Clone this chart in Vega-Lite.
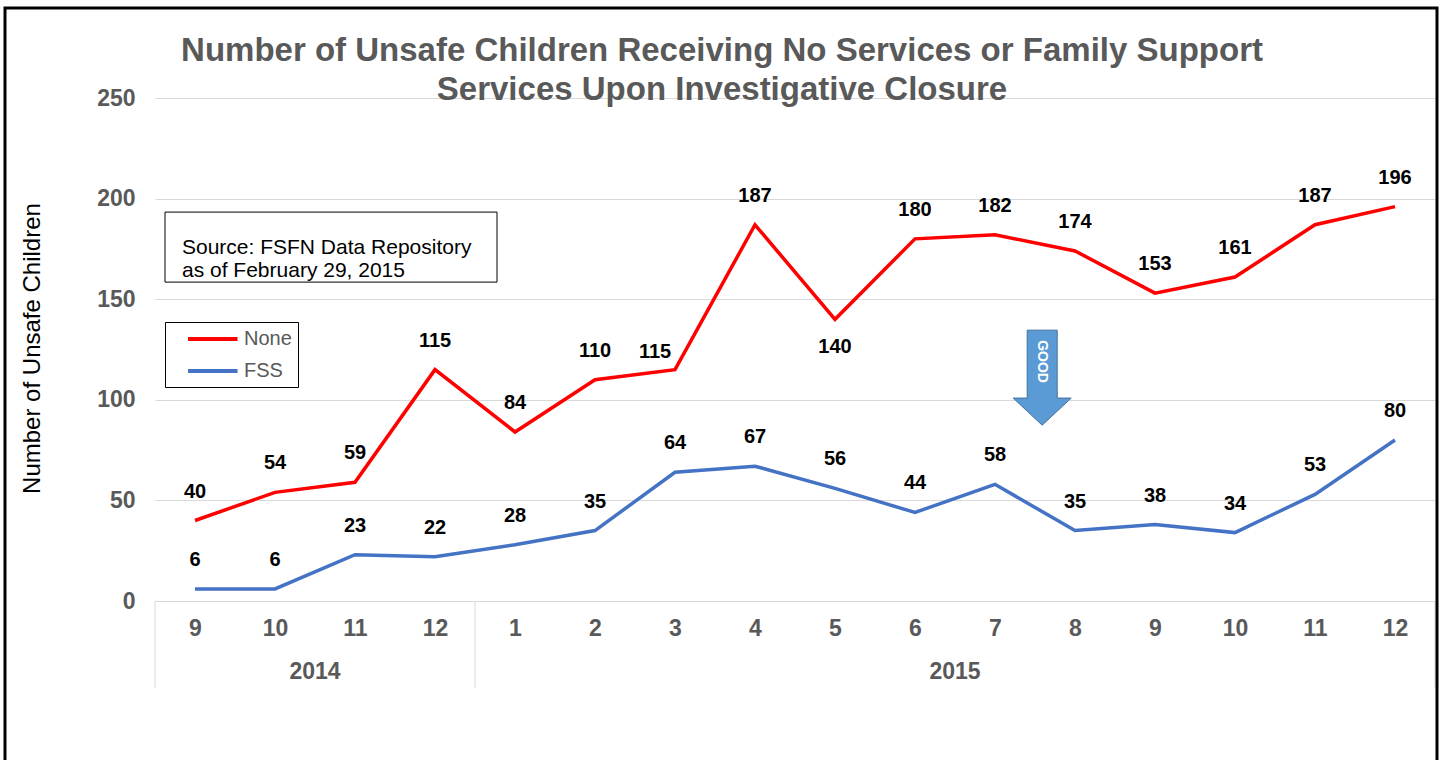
{
  "$schema": "https://vega.github.io/schema/vega-lite/v6.json",
  "autosize": {"type": "none"},
  "padding": {"left": 155, "top": 98, "right": 8, "bottom": 159},
  "width": 1280,
  "height": 503,
  "background": "white",
  "config": {
    "view": {"stroke": null},
    "font": "Liberation Sans"
  },
  "title": {
    "text": ["Number of Unsafe Children Receiving No Services or Family Support", "Services Upon Investigative Closure"],
    "font": "Liberation Sans",
    "fontSize": 33,
    "fontWeight": "bold",
    "color": "#595959",
    "anchor": "middle",
    "dx": -73,
    "dy": 100,
    "lineHeight": 39,
    "offset": 0
  },
  "datasets": {
    "main": [
      {"idx": 0, "year": "2014", "month": 9, "series": "None", "value": 40},
      {"idx": 1, "year": "2014", "month": 10, "series": "None", "value": 54},
      {"idx": 2, "year": "2014", "month": 11, "series": "None", "value": 59},
      {"idx": 3, "year": "2014", "month": 12, "series": "None", "value": 115},
      {"idx": 4, "year": "2015", "month": 1, "series": "None", "value": 84},
      {"idx": 5, "year": "2015", "month": 2, "series": "None", "value": 110},
      {"idx": 6, "year": "2015", "month": 3, "series": "None", "value": 115},
      {"idx": 7, "year": "2015", "month": 4, "series": "None", "value": 187},
      {"idx": 8, "year": "2015", "month": 5, "series": "None", "value": 140},
      {"idx": 9, "year": "2015", "month": 6, "series": "None", "value": 180},
      {"idx": 10, "year": "2015", "month": 7, "series": "None", "value": 182},
      {"idx": 11, "year": "2015", "month": 8, "series": "None", "value": 174},
      {"idx": 12, "year": "2015", "month": 9, "series": "None", "value": 153},
      {"idx": 13, "year": "2015", "month": 10, "series": "None", "value": 161},
      {"idx": 14, "year": "2015", "month": 11, "series": "None", "value": 187},
      {"idx": 15, "year": "2015", "month": 12, "series": "None", "value": 196},
      {"idx": 0, "year": "2014", "month": 9, "series": "FSS", "value": 6},
      {"idx": 1, "year": "2014", "month": 10, "series": "FSS", "value": 6},
      {"idx": 2, "year": "2014", "month": 11, "series": "FSS", "value": 23},
      {"idx": 3, "year": "2014", "month": 12, "series": "FSS", "value": 22},
      {"idx": 4, "year": "2015", "month": 1, "series": "FSS", "value": 28},
      {"idx": 5, "year": "2015", "month": 2, "series": "FSS", "value": 35},
      {"idx": 6, "year": "2015", "month": 3, "series": "FSS", "value": 64},
      {"idx": 7, "year": "2015", "month": 4, "series": "FSS", "value": 67},
      {"idx": 8, "year": "2015", "month": 5, "series": "FSS", "value": 56},
      {"idx": 9, "year": "2015", "month": 6, "series": "FSS", "value": 44},
      {"idx": 10, "year": "2015", "month": 7, "series": "FSS", "value": 58},
      {"idx": 11, "year": "2015", "month": 8, "series": "FSS", "value": 35},
      {"idx": 12, "year": "2015", "month": 9, "series": "FSS", "value": 38},
      {"idx": 13, "year": "2015", "month": 10, "series": "FSS", "value": 34},
      {"idx": 14, "year": "2015", "month": 11, "series": "FSS", "value": 53},
      {"idx": 15, "year": "2015", "month": 12, "series": "FSS", "value": 80}
    ],
    "edges": [{"edge": -0.5}, {"edge": 3.5}, {"edge": 15.5}],
    "one": [{}]
  },
  "data": {"name": "main"},
  "layer": [
    {
      "mark": {"type": "line", "strokeWidth": 3.5, "interpolate": "linear"},
      "encoding": {
        "x": {
          "field": "idx", "type": "quantitative",
          "scale": {"domain": [-0.5, 15.5], "nice": false, "zero": false},
          "axis": {
            "title": null,
            "values": [0,1,2,3,4,5,6,7,8,9,10,11,12,13,14,15],
            "labelExpr": "datum.value < 4 ? datum.value + 9 : datum.value - 3",
            "grid": false, "ticks": false,
            "domainColor": "#D9D9D9", "domainWidth": 1,
            "labelFont": "Liberation Sans", "labelFontSize": 23, "labelFontWeight": "bold",
            "labelColor": "#595959", "labelPadding": 16, "labelBaseline": "top"
          }
        },
        "y": {
          "field": "value", "type": "quantitative",
          "scale": {"domain": [0, 250], "nice": false},
          "axis": {
            "title": "Number of Unsafe Children",
            "titleFont": "Liberation Sans", "titleFontSize": 24, "titleFontWeight": "normal",
            "titleColor": "black", "titleAngle": -90, "titleX": -123, "titleY": 250,
            "titleAlign": "center", "titleBaseline": "middle",
            "values": [0, 50, 100, 150, 200, 250],
            "domain": false, "ticks": false,
            "gridColor": "#D9D9D9", "gridWidth": 1,
            "labelFont": "Liberation Sans", "labelFontSize": 23, "labelFontWeight": "bold",
            "labelColor": "#595959", "labelPadding": 20
          }
        },
        "color": {
          "field": "series", "type": "nominal",
          "scale": {"domain": ["None", "FSS"], "range": ["#FF0000", "#4472C4"]},
          "legend": {
            "orient": "none", "legendX": 10, "legendY": 224, "title": null,
            "symbolType": "M 0.67 0 L 6.17 0", "symbolSize": 324, "symbolStrokeWidth": 4,
            "symbolFillColor": "transparent",
            "labelFont": "Liberation Sans", "labelFontSize": 20, "labelColor": "#595959",
            "labelOffset": 51, "strokeColor": "black", "padding": 6, "rowPadding": 11
          }
        }
      }
    },
    {
      "data": {"name": "edges"},
      "mark": {"type": "rule", "color": "#D9D9D9", "strokeWidth": 1},
      "encoding": {
        "x": {"field": "edge", "type": "quantitative"},
        "y": {"datum": 0, "type": "quantitative"},
        "y2": {"datum": -43}
      }
    },
    {
      "mark": {"type": "text", "fontSize": 23, "fontWeight": "bold", "color": "#595959", "dy": 71, "baseline": "middle", "font": "Liberation Sans"},
      "encoding": {
        "x": {"aggregate": "mean", "field": "idx", "type": "quantitative"},
        "y": {"datum": 0, "type": "quantitative"},
        "text": {"field": "year", "type": "nominal"}
      }
    },
    {
      "transform": [{"filter": "!(datum.series == 'None' && (datum.idx == 8 || datum.idx == 6))"}],
      "mark": {"type": "text", "fontSize": 20, "fontWeight": "bold", "color": "black", "dy": -29, "baseline": "middle", "font": "Liberation Sans"},
      "encoding": {
        "x": {"field": "idx", "type": "quantitative"},
        "y": {"field": "value", "type": "quantitative"},
        "text": {"field": "value", "type": "quantitative"}
      }
    },
    {
      "transform": [{"filter": "datum.series == 'None' && datum.idx == 8"}],
      "mark": {"type": "text", "fontSize": 20, "fontWeight": "bold", "color": "black", "dy": 28, "baseline": "middle", "font": "Liberation Sans"},
      "encoding": {
        "x": {"field": "idx", "type": "quantitative"},
        "y": {"field": "value", "type": "quantitative"},
        "text": {"field": "value", "type": "quantitative"}
      }
    },
    {
      "transform": [{"filter": "datum.series == 'None' && datum.idx == 6"}],
      "mark": {"type": "text", "fontSize": 20, "fontWeight": "bold", "color": "black", "dx": -20, "dy": -18, "baseline": "middle", "font": "Liberation Sans"},
      "encoding": {
        "x": {"field": "idx", "type": "quantitative"},
        "y": {"field": "value", "type": "quantitative"},
        "text": {"field": "value", "type": "quantitative"}
      }
    },
    {
      "data": {"name": "one"},
      "mark": {"type": "rect", "fill": "white", "stroke": "black", "strokeWidth": 1},
      "encoding": {
        "x": {"datum": -0.375, "type": "quantitative"},
        "x2": {"datum": 3.775},
        "y": {"datum": 193.3, "type": "quantitative"},
        "y2": {"datum": 158.5}
      }
    },
    {
      "data": {"name": "one"},
      "mark": {"type": "text", "text": ["Source: FSFN Data Repository", "as of February 29, 2015"], "fontSize": 21, "fontWeight": "normal", "color": "black", "align": "left", "baseline": "middle", "lineHeight": 23, "font": "Liberation Sans"},
      "encoding": {
        "x": {"datum": -0.1625, "type": "quantitative"},
        "y": {"datum": 175.2, "type": "quantitative"}
      }
    },
    {
      "data": {"name": "one"},
      "mark": {"type": "point", "shape": "M -0.316 -1 L 0.316 -1 L 0.316 0.43 L 0.61 0.43 L 0 1 L -0.61 0.43 L -0.316 0.43 Z", "size": 9025, "filled": true, "fill": "#5B9BD5", "stroke": "#41719C", "strokeWidth": 1, "opacity": 1},
      "encoding": {
        "x": {"datum": 10.59, "type": "quantitative"},
        "y": {"datum": 111, "type": "quantitative"}
      }
    },
    {
      "data": {"name": "one"},
      "mark": {"type": "text", "text": "GOOD", "angle": 90, "fontSize": 14, "fontWeight": "bold", "color": "white", "align": "center", "baseline": "middle", "font": "Liberation Sans"},
      "encoding": {
        "x": {"datum": 10.59, "type": "quantitative"},
        "y": {"datum": 119, "type": "quantitative"}
      }
    },
    {
      "data": {"name": "one"},
      "mark": {"type": "rect", "fill": null, "fillOpacity": 0, "stroke": "black", "strokeWidth": 3},
      "encoding": {
        "x": {"datum": -2.375, "type": "quantitative"},
        "x2": {"datum": 15.525},
        "y": {"datum": 294.7, "type": "quantitative"},
        "y2": {"datum": -85}
      }
    }
  ]
}
